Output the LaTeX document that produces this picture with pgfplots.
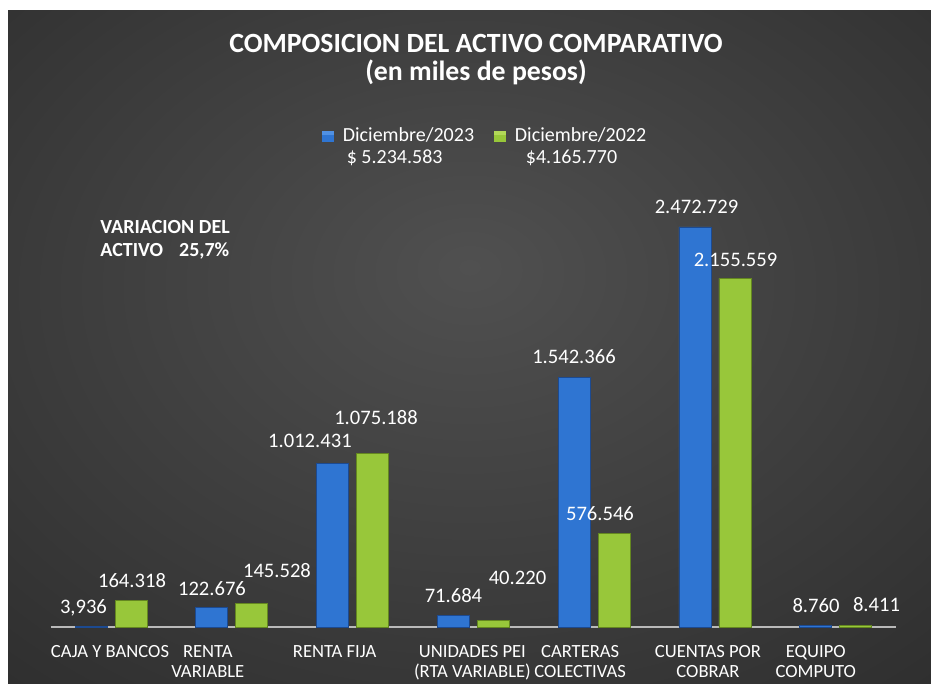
\documentclass[border=0pt]{standalone}
\usepackage{pgfplots}
\pgfplotsset{compat=1.18}
\usepackage{fontspec}
\setmainfont{Carlito}
\definecolor{bgin}{RGB}{80,80,80}
\definecolor{bgout}{RGB}{36,36,36}
\definecolor{blueC}{RGB}{47,117,210}
\definecolor{blueD}{RGB}{28,74,145}
\definecolor{blueL}{RGB}{80,145,228}
\definecolor{greenC}{RGB}{152,199,58}
\definecolor{greenD}{RGB}{100,135,32}
\definecolor{greenL}{RGB}{178,216,88}
\definecolor{axgray}{RGB}{185,185,185}
\pgfdeclareradialshading{bgshade}{\pgfpoint{0bp}{6bp}}{color(0bp)=(bgin); color(50bp)=(bgout); color(75bp)=(bgout)}
\newcommand{\cl}[2]{\begin{tabular}[t]{@{}c@{}}#2\end{tabular}\hspace*{#1pt}}
\tikzset{lbl/.style={text=white, font=\fontsize{10.3}{12}\selectfont, inner sep=0pt, anchor=center}}
\begin{document}
\begin{tikzpicture}
\fill[white] (0,0) rectangle (465.5pt,342pt);
\shade[shading=bgshade] (4pt,0) rectangle (465.5pt,336.5pt);
% title
\node[anchor=base, text=white, font=\fontsize{13.9}{15}\selectfont\bfseries, inner sep=0pt] at (238pt,315.5pt) {COMPOSICION DEL ACTIVO COMPARATIVO};
\node[anchor=base, text=white, font=\fontsize{13.9}{15}\selectfont\bfseries, inner sep=0pt] at (238pt,301.5pt) {(en miles de pesos)};
% variation note
\node[anchor=base west, text=white, align=left, font=\fontsize{10}{11.5}\selectfont\bfseries, inner sep=0pt] at (50pt,213.5pt) {VARIACION DEL\\ACTIVO\hspace*{8pt}25,7\%};
\begin{axis}[
  at={(25.3pt,28.5pt)}, anchor=south west, scale only axis,
  width=422.8pt, height=242.65pt,
  xmin=-0.5, xmax=6.5, ymin=0, ymax=3000000,
  axis x line*=bottom, axis y line=none,
  x axis line style={draw=axgray, line width=1pt, -},
  xtick={0,1,2,3,4,5,6}, major tick length=0pt, ytick=\empty,
  xticklabels={{\cl{1}{CAJA Y BANCOS}},{\cl{24}{RENTA\\VARIABLE}},{\cl{18}{RENTA FIJA}},{\cl{1}{UNIDADES PEI\\(RTA VARIABLE)}},{\cl{14}{CARTERAS\\COLECTIVAS}},{\cl{7}{CUENTAS POR\\COBRAR}},{\cl{20}{EQUIPO\\COMPUTO}}},
  xticklabel style={font=\fontsize{9.3}{10}\selectfont, text=white, yshift=-8pt, inner sep=0pt},
  clip=false,
  legend columns=2,
  legend style={at={(0.321,1.0414)}, anchor=north west, draw=none, fill=none, text=white,
    font=\fontsize{10}{11}\selectfont, inner sep=0pt, outer sep=0pt, cells={anchor=base west},
    /tikz/column 1/.style={column sep=2.5pt}, /tikz/column 2/.style={column sep=8pt}, /tikz/column 3/.style={column sep=2.5pt}},
]
\addplot[ybar, bar width=16pt, bar shift=-10pt, draw=blueD, line width=0.4pt, fill=blueC,
  legend image code/.code={\fill[blueC] (0pt,0pt) rectangle (5.5pt,5pt); \fill[blueL] (0pt,3.5pt) rectangle (5.5pt,5pt);}]
  coordinates {(0,3936) (1,122676) (2,1012431) (3,71684) (4,1542366) (5,2472729) (6,8760)};
\addlegendentry{\begin{tabular}[t]{@{}l@{}}Diciembre/2023\\\hspace*{2pt}\$ 5.234.583\end{tabular}}
\addplot[ybar, bar width=16pt, bar shift=10pt, draw=greenD, line width=0.4pt, fill=greenC,
  legend image code/.code={\fill[greenC] (0pt,0pt) rectangle (5.5pt,5pt); \fill[greenL] (0pt,3.5pt) rectangle (5.5pt,5pt);}]
  coordinates {(0,164318) (1,145528) (2,1075188) (3,40220) (4,576546) (5,2155559) (6,8411)};
\addlegendentry{\begin{tabular}[t]{@{}l@{}}Diciembre/2022\\\hspace*{5.5pt}\$4.165.770\end{tabular}}
\node[lbl] at (axis cs:-0.228,120545) {3,936};
\node[lbl] at (axis cs:0.174,287454) {164.318};
\node[lbl] at (axis cs:0.836,238000) {122.676};
\node[lbl] at (axis cs:1.374,346180) {145.528};
\node[lbl] at (axis cs:1.647,1149815) {1.012.431};
\node[lbl] at (axis cs:2.194,1292000) {1.075.188};
\node[lbl] at (axis cs:2.835,191636) {71.684};
\node[lbl] at (axis cs:3.365,306000) {40.220};
\node[lbl] at (axis cs:3.833,1669000) {1.542.366};
\node[lbl] at (axis cs:4.048,698540) {576.546};
\node[lbl] at (axis cs:4.847,2596000) {2.472.729};
\node[lbl] at (axis cs:5.170,2268700) {2.155.559};
\node[lbl] at (axis cs:5.836,132900) {8.760};
\node[lbl] at (axis cs:6.337,139090) {8.411};
\end{axis}
\pgfresetboundingbox
\path[use as bounding box] (0,0) rectangle (465.5pt,342pt);
\end{tikzpicture}
\end{document}
